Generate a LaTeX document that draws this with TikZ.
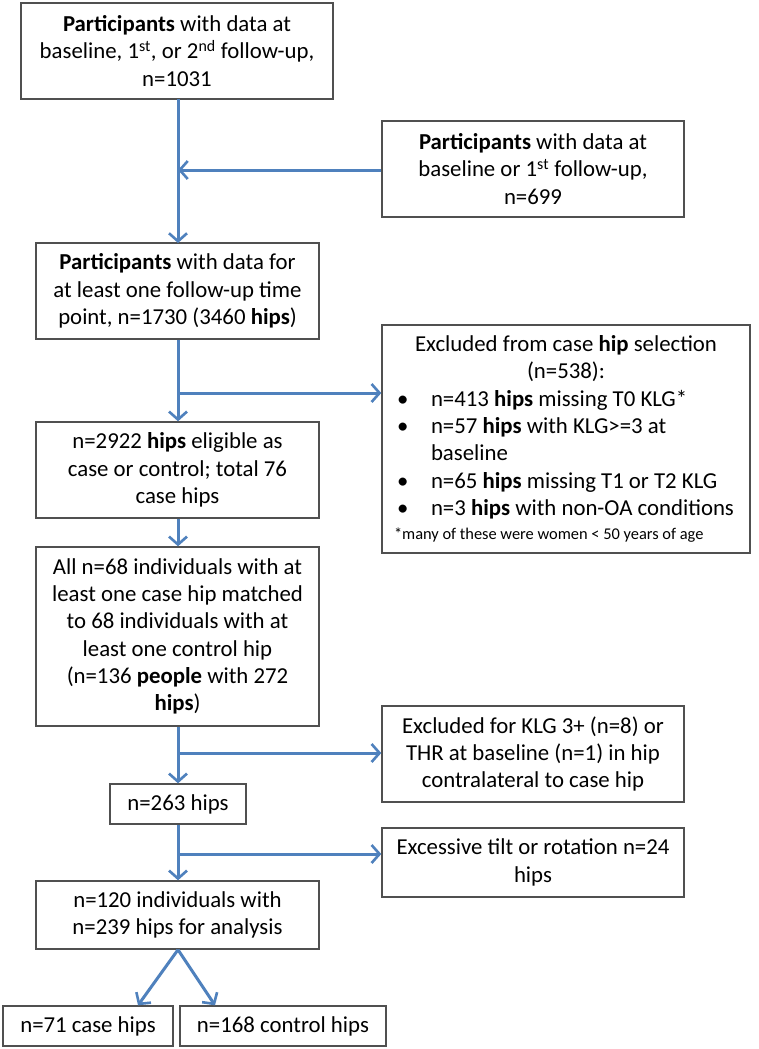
\documentclass[tikz,border=0pt]{standalone}
\usepackage{fontspec}
\setmainfont{Carlito}
\usetikzlibrary{arrows.meta}
\definecolor{arrowblue}{RGB}{79,129,189}
\definecolor{boxgray}{RGB}{80,80,80}
\newcommand\bul[1]{\makebox[41pt][l]{\hspace{7pt}\textbullet}#1}
\begin{document}
\begin{tikzpicture}[x=1pt,y=1pt,
  box/.style={draw=boxgray, line width=1.4pt, fill=white, align=center, inner sep=2pt},
  arr/.style={draw=arrowblue, line width=3pt, -{Straight Barb[length=8pt,width=18pt,line width=2.6pt]}},
  font=\fontsize{22.8}{27.3}\selectfont]
\useasboundingbox (0,0) rectangle (759,-1049);
\fill[white] (0,0) rectangle (759,-1049);

\node[box, minimum width=312, minimum height=96] (b1) at (177,-51)
  {\textbf{Participants} with data at\\baseline, 1\textsuperscript{st}, or 2\textsuperscript{nd} follow-up,\\n=1031};
\node[box, minimum width=302, minimum height=96] (b2) at (533,-169)
  {\textbf{Participants} with data at\\baseline or 1\textsuperscript{st} follow-up,\\n=699};
\node[box, minimum width=283, minimum height=96] (b3) at (177.5,-291)
  {\textbf{Participants} with data for\\at least one follow-up time\\point, n=1730 (3460 \textbf{hips})};
\node[box, minimum width=368, minimum height=228, text width=352, align=none] (ex1) at (566,-439)
  {{\centering Excluded from case \textbf{hip} selection\\(n=538):\par}
   \raggedright
   \bul{n=413 \textbf{hips} missing T0 KLG*}\\
   \bul{n=57 \textbf{hips} with KLG>=3 at}\\
   \hspace*{41pt}baseline\\
   \bul{n=65 \textbf{hips} missing T1 or T2 KLG}\\
   \bul{n=3 \textbf{hips} with non-OA conditions}\par
   {\fontsize{16.4}{24}\selectfont\hspace*{4pt}*many of these were women < 50 years of age\par}};
\node[box, minimum width=283, minimum height=96] (b4) at (177.5,-470)
  {n=2922 \textbf{hips} eligible as\\case or control; total 76\\case hips};
\node[box, minimum width=283, minimum height=179] (b5) at (177.5,-636.5)
  {All n=68 individuals with at\\least one case hip matched\\to 68 individuals with at\\least one control hip\\(n=136 \textbf{people} with 272\\\textbf{hips})};
\node[box, minimum width=302, minimum height=96] (ex2) at (533,-754)
  {Excluded for KLG 3+ (n=8) or\\THR at baseline (n=1) in hip\\contralateral to case hip};
\node[box, minimum width=136, minimum height=40] (b6) at (178,-804) {n=263 hips};
\node[box, minimum width=302, minimum height=69] (ex3) at (533,-862.5)
  {Excessive tilt or rotation n=24\\hips};
\node[box, minimum width=283, minimum height=68] (b7) at (177.5,-915)
  {n=120 individuals with\\n=239 hips for analysis};
\node[box, minimum width=170, minimum height=40] (b8) at (88,-1026) {n=71 case hips};
\node[box, minimum width=206, minimum height=40] (b9) at (283,-1026) {n=168 control hips};

\coordinate (t1) at (178,-99);
\coordinate (j0) at (178,-170);
\coordinate (t3) at (178,-243);
\coordinate (j1) at (178,-393);
\coordinate (j2) at (178,-753);
\coordinate (j3) at (178,-854);

\draw[arr] (t1) -- (t3);
\draw[arr] (b2.west |- j0) -- (j0);
\draw[arr] (b3.south -| j1) -- (b4.north -| j1);
\draw[arr] (j1) -- (j1 -| ex1.west);
\draw[arr] (b4.south -| j1) -- (b5.north -| j1);
\draw[arr] (b5.south -| j2) -- (b6.north);
\draw[arr] (j2) -- (j2 -| ex2.west);
\draw[arr] (b6.south) -- (b7.north -| b6.south);
\draw[arr] (j3) -- (j3 -| ex3.west);
\draw[arr] (b7.south -| b6.south) -- ([xshift=50pt]b8.north);
\draw[arr] (b7.south -| b6.south) -- ([xshift=-68pt]b9.north);
\end{tikzpicture}
\end{document}
